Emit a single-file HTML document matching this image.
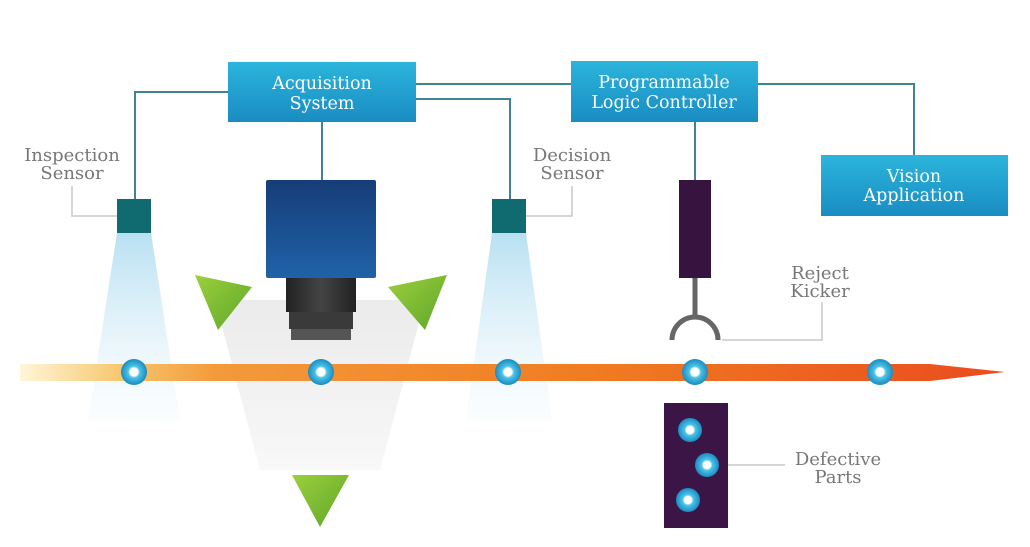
<!DOCTYPE html>
<html><head><meta charset="utf-8"><style>
html,body{margin:0;padding:0;background:#fff;width:1030px;height:547px;overflow:hidden}
svg{display:block}
.lbl{font-family:"DejaVu Serif","Liberation Serif",serif;font-size:18px;fill:#777;text-anchor:middle}
.bt{font-family:"DejaVu Serif","Liberation Serif",serif;font-size:17.5px;fill:#fff;text-anchor:middle}
.ln{stroke:#3d8494;stroke-width:2;fill:none}
.ld{stroke:#c8c8c8;stroke-width:1.5;fill:none}
</style></head><body>
<svg width="1030" height="547" viewBox="0 0 1030 547">
<defs>
<linearGradient id="box" x1="0" y1="0" x2="0" y2="1"><stop offset="0" stop-color="#2bb5dc"/><stop offset="1" stop-color="#1a8cc2"/></linearGradient>
<linearGradient id="beam" x1="0" y1="0" x2="0" y2="1"><stop offset="0" stop-color="#b8e0f2"/><stop offset="1" stop-color="#eaf6fb" stop-opacity="0.2"/></linearGradient>
<linearGradient id="gray" x1="0" y1="0" x2="0" y2="1"><stop offset="0" stop-color="#ebebeb"/><stop offset="1" stop-color="#f8f8f8"/></linearGradient>
<linearGradient id="conv" x1="0" y1="0" x2="1" y2="0"><stop offset="0" stop-color="#fff6d8"/><stop offset="0.1" stop-color="#f7c870"/><stop offset="0.2" stop-color="#f39a3a"/><stop offset="0.6" stop-color="#f07a22"/><stop offset="1" stop-color="#ea4b1e"/></linearGradient>
<linearGradient id="cam" x1="0" y1="0" x2="0" y2="1"><stop offset="0" stop-color="#163d78"/><stop offset="1" stop-color="#1f62a8"/></linearGradient>
<linearGradient id="lens" x1="0" y1="0" x2="1" y2="0"><stop offset="0" stop-color="#222"/><stop offset="0.5" stop-color="#444"/><stop offset="1" stop-color="#222"/></linearGradient>
<linearGradient id="grn" x1="0" y1="0" x2="1" y2="1"><stop offset="0" stop-color="#9ccf3c"/><stop offset="1" stop-color="#5ea62a"/></linearGradient>
<radialGradient id="part"><stop offset="0" stop-color="#ffffff"/><stop offset="0.3" stop-color="#ffffff"/><stop offset="0.45" stop-color="#4cc3e6"/><stop offset="1" stop-color="#1a8cc2"/></radialGradient>
</defs>
<polygon points="117,233 151,233 180,420 88,420" fill="url(#beam)"/>
<polygon points="492,233 526,233 552,420 466,420" fill="url(#beam)"/>
<polygon points="215,300 425,300 380,470 260,470" fill="url(#gray)"/>
<path class="ln" d="M228,92 H135 V199"/>
<path class="ln" d="M322,122 V180"/>
<path class="ln" d="M416,84 H571"/>
<path class="ln" d="M416,99 H510 V199"/>
<path class="ln" d="M758,84 H914 V155"/>
<path class="ln" d="M695,122 V180"/>
<path class="ld" d="M72,186 V216 H117"/>
<path class="ld" d="M572,186 V216 H526"/>
<path class="ld" d="M822,302 V340 H722"/>
<path class="ld" d="M728,465 H785"/>
<g><rect x="228" y="62" width="188" height="60" fill="url(#box)"/>
<text class="bt" x="322" y="89">Acquisition</text><text class="bt" x="322" y="109">System</text></g>
<g><rect x="571" y="61" width="187" height="61" fill="url(#box)"/>
<text class="bt" x="664" y="88">Programmable</text><text class="bt" x="664" y="108">Logic Controller</text></g>
<g><rect x="821" y="155" width="187" height="61" fill="url(#box)"/>
<text class="bt" x="914" y="182">Vision</text><text class="bt" x="914" y="201">Application</text></g>
<rect x="117" y="199" width="34" height="34" fill="#0f6b6f"/>
<rect x="492" y="199" width="34" height="34" fill="#0f6b6f"/>
<rect x="266" y="180" width="110" height="98" fill="url(#cam)" rx="2"/>
<rect x="286" y="278" width="70" height="34" fill="url(#lens)"/>
<rect x="289" y="312" width="64" height="17" fill="#3a3a3a"/>
<rect x="291" y="329" width="60" height="11" fill="#555"/>
<polygon points="195,275 252,287 218,330" fill="url(#grn)"/>
<polygon points="388,287 447,275 425,330" fill="url(#grn)"/>
<polygon points="292,475 349,475 320,527" fill="url(#grn)"/>
<rect x="679" y="180" width="32" height="98" fill="#36143f"/>
<path d="M695,278 V316 M672,340 A23,23 0 0 1 718,340" stroke="#666" stroke-width="5" fill="none"/>
<polygon points="20,364 930,364 1005,372 930,381 20,381" fill="url(#conv)"/>
<g>
<circle cx="134" cy="372" r="13" fill="url(#part)"/>
<circle cx="321" cy="372" r="13" fill="url(#part)"/>
<circle cx="508" cy="372" r="13" fill="url(#part)"/>
<circle cx="695" cy="372" r="13" fill="url(#part)"/>
<circle cx="880" cy="372" r="13" fill="url(#part)"/>
</g>
<g><rect x="664" y="403" width="64" height="125" fill="#3a1545"/>
<circle cx="690" cy="430" r="12" fill="url(#part)"/><circle cx="707" cy="465" r="12" fill="url(#part)"/><circle cx="688" cy="500" r="12" fill="url(#part)"/></g>
<g><text class="lbl" x="72" y="161">Inspection</text><text class="lbl" x="72" y="179">Sensor</text></g>
<g><text class="lbl" x="572" y="161">Decision</text><text class="lbl" x="572" y="179">Sensor</text></g>
<g><text class="lbl" x="820" y="279">Reject</text><text class="lbl" x="820" y="297">Kicker</text></g>
<g><text class="lbl" x="838" y="465">Defective</text><text class="lbl" x="838" y="483">Parts</text></g>
</svg>
</body></html>
